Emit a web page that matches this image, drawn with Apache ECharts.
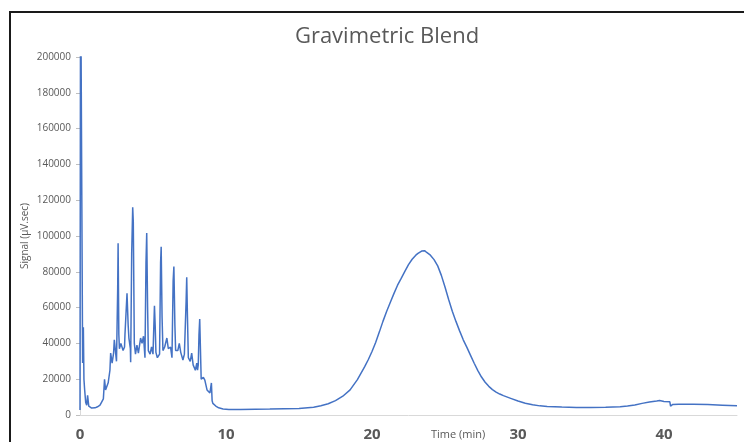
<!DOCTYPE html>
<html>
<head>
<meta charset="utf-8">
<script src="https://cdn.jsdelivr.net/npm/echarts@6/dist/echarts.min.js"></script>
<style>
  html, body { margin: 0; padding: 0; background: #fff; }
  #chart { width: 744px; height: 442px; }
</style>
</head>
<body>
<div id="chart"></div>
<script>
// time (min) and signal (µV.sec)
var timeMin = [
  0, 0.04, 0.13, 0.18, 0.23, 0.27, 0.32, 0.39, 0.46, 0.52, 0.6, 0.8, 1.03, 1.2, 1.37, 1.5, 1.6, 1.68, 1.75, 1.93,
  2.05, 2.1, 2.2, 2.3, 2.35, 2.5, 2.55, 2.58, 2.61, 2.66, 2.7, 2.8, 2.95, 3.05, 3.08, 3.22, 3.3, 3.35, 3.45, 3.47,
  3.54, 3.61, 3.65, 3.72, 3.8, 3.9, 4.0, 4.15, 4.25, 4.35, 4.45, 4.52, 4.57, 4.63, 4.68, 4.8, 4.9, 5.0, 5.1, 5.15,
  5.2, 5.3, 5.45, 5.52, 5.56, 5.62, 5.68, 5.8, 5.95, 6.05, 6.2, 6.3, 6.38, 6.43, 6.5, 6.55, 6.7, 6.8, 6.9, 7.05,
  7.15, 7.27, 7.31, 7.36, 7.42, 7.55, 7.65, 7.75, 7.9, 8.0, 8.05, 8.1, 8.15, 8.2, 8.24, 8.3, 8.45, 8.55, 8.7, 8.9,
  9.0, 9.05, 9.1, 9.3, 9.5, 9.8, 10.2, 11, 12, 13, 14, 15, 16, 16.5, 17, 17.5, 18, 18.5, 19, 19.5,
  19.75, 20, 20.25, 20.5, 20.75, 21, 21.25, 21.5, 21.75, 22, 22.25, 22.5, 22.75, 23, 23.15, 23.25, 23.4, 23.5, 23.6, 23.75,
  24, 24.25, 24.5, 24.75, 25, 25.25, 25.5, 25.75, 26, 26.25, 26.5, 26.75, 27, 27.25, 27.5, 27.75, 28, 28.25, 28.5, 28.75,
  29, 29.5, 30, 30.5, 31, 31.5, 32, 33, 34, 35, 36, 37, 37.5, 38, 38.5, 39, 39.5, 39.7, 40.0, 40.4,
  40.45, 40.6, 41, 42, 43, 44, 45
];
var signal = [
  2800, 260000, 260000, 29000, 49000, 20000, 14000, 7000, 5500, 11000, 5000, 3900, 4000, 4600, 5500, 7500, 9000, 20000, 14000, 18000,
  25000, 34600, 29000, 34600, 42000, 30000, 29000, 70000, 96000, 45000, 37000, 40000, 36000, 38000, 45000, 68000, 50000, 43000, 37000, 29500,
  90000, 116000, 108000, 40000, 34000, 39000, 34600, 43000, 40000, 44000, 32000, 85000, 101700, 60000, 36000, 34000, 38000, 34000, 61000, 50000,
  35000, 32000, 34000, 85000, 94000, 55000, 36000, 38000, 43000, 37000, 38000, 32000, 75000, 83000, 50000, 36000, 36000, 40000, 35000, 30700,
  34000, 64000, 77000, 55000, 32000, 30000, 34600, 28000, 25000, 29000, 25000, 28000, 45000, 53600, 40000, 20000, 21000, 19500, 14000, 12300,
  17900, 8000, 6500, 5000, 4000, 3400, 3100, 3100, 3200, 3300, 3500, 3700, 4300, 5200, 6300, 8000, 10500, 14000, 19800, 27000,
  31000, 35500, 40500, 46300, 52300, 57800, 62800, 67800, 72500, 76300, 80200, 84000, 87000, 89300, 90300, 90800, 91600, 91000, 91800, 90800,
  89300, 86800, 83300, 78000, 71500, 64500, 58000, 52300, 47000, 42000, 37800, 33300, 28900, 24800, 21200, 18300, 16000, 14200, 12800, 11700,
  10800, 9300, 7800, 6600, 5700, 5100, 4700, 4400, 4200, 4200, 4300, 4600, 5000, 5600, 6500, 7200, 7800, 8100, 7600, 7400,
  5000, 5900, 6000, 6000, 5800, 5500, 5200
];
var xTickMax = 45;
var yTickMax = 200000;

var chart = echarts.init(document.getElementById('chart'));

var points = timeMin.map(function (t, i) {
  return [t, signal[i]];
});

var option = {
  backgroundColor: '#ffffff',
  animation: false,
  title: {
    text: 'Gravimetric Blend',
    left: 382,
    top: 21,
    textAlign: 'center',
    textStyle: {
      fontFamily: 'Open Sans',
      fontSize: 22,
      fontWeight: 'normal',
      color: '#595959'
    }
  },
  grid: {
    left: 80,
    right: 7,
    top: 57,
    bottom: 27
  },
  xAxis: {
    type: 'value',
    min: 0,
    max: xTickMax,
    interval: 10,
    axisLine: {
      lineStyle: { color: '#d9d9d9', width: 1 }
    },
    axisTick: { show: false },
    splitLine: { show: false },
    axisLabel: {
      margin: 12,
      fontFamily: 'Open Sans',
      fontSize: 15,
      fontWeight: 'bold',
      color: '#595959',
      showMaxLabel: false
    }
  },
  yAxis: {
    type: 'value',
    min: 0,
    max: yTickMax,
    interval: 20000,
    name: 'Signal (µV.sec)',
    nameLocation: 'middle',
    nameGap: 50,
    nameMoveOverlap: false,
    nameTextStyle: {
      fontFamily: 'Open Sans',
      fontSize: 10,
      color: '#595959'
    },
    axisLine: {
      show: true,
      lineStyle: { color: '#d9d9d9' }
    },
    axisTick: {
      show: true,
      length: 4,
      lineStyle: { color: '#bfbfbf' }
    },
    splitLine: { show: false },
    axisLabel: {
      margin: 9,
      fontFamily: 'Open Sans',
      fontSize: 10,
      color: '#595959',
      formatter: function (v) {
        return String(v);
      }
    }
  },
  series: [{
    type: 'line',
    data: points,
    showSymbol: false,
    smooth: false,
    clip: true,
    lineStyle: {
      color: '#4472C4',
      width: 1.5
    }
  }],
  graphic: [{
    type: 'text',
    left: 431,
    top: 429,
    style: {
      text: 'Time (min)',
      fontFamily: 'Open Sans',
      fontSize: 11,
      fill: '#595959'
    }
  }, {
    type: 'rect',
    shape: { x: 10, y: 12, width: 900, height: 600 },
    style: { fill: 'none', stroke: '#1a1a1a', lineWidth: 2 }
  }]
};

chart.setOption(option);
</script>
</body>
</html>
